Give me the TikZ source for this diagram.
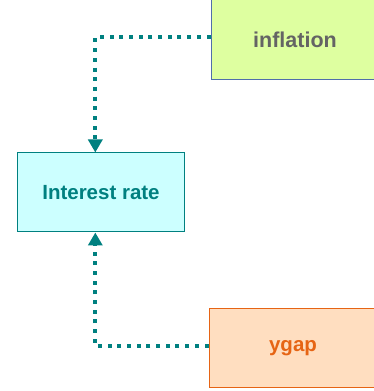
\documentclass[tikz,border=0pt]{standalone}
\usepackage{fontspec}
\setmainfont{Liberation Sans}
\usetikzlibrary{arrows.meta}
\definecolor{linkcolor}{RGB}{0,128,128}
\definecolor{inflfill}{RGB}{222,255,160}
\definecolor{inflborder}{RGB}{80,110,170}
\definecolor{inflfg}{RGB}{100,100,100}
\definecolor{ratefill}{RGB}{204,255,255}
\definecolor{gapfill}{RGB}{255,222,192}
\definecolor{gapborder}{RGB}{230,100,20}
\tikzset{
    varbox/.style={draw, line width=1pt, minimum width=168pt, minimum height=80pt, inner sep=0pt, font=\bfseries\fontsize{20.5}{24}\selectfont},
    link/.style={draw=linkcolor, line width=4pt, dash pattern=on 4pt off 5.7pt, -{Triangle[width=14pt,length=13pt]}}
}

\begin{document}
\begin{tikzpicture}[x=1pt,y=1pt]
        \useasboundingbox (0,0) rectangle (374,391);

        \node (infl) [varbox, draw=inflborder, fill=inflfill, text=inflfg, font=\bfseries\fontsize{21.5}{24}\selectfont] at (295,351.5) {inflation};
        \node (rate) [varbox, draw=linkcolor, fill=ratefill, text=linkcolor, minimum width=167pt, minimum height=79pt] at (101,198.5) {Interest rate};
        \node (ygap) [varbox, draw=gapborder, fill=gapfill, text=gapborder, minimum height=79.5pt] at (293,42.75) {ygap};

        \draw [link] ([yshift=2.2pt]infl.west) -| ([xshift=-5.7pt]rate.north);
        \draw [link] ([yshift=2.2pt]ygap.west) -| ([xshift=-5.7pt]rate.south);
    \end{tikzpicture}
\end{document}
